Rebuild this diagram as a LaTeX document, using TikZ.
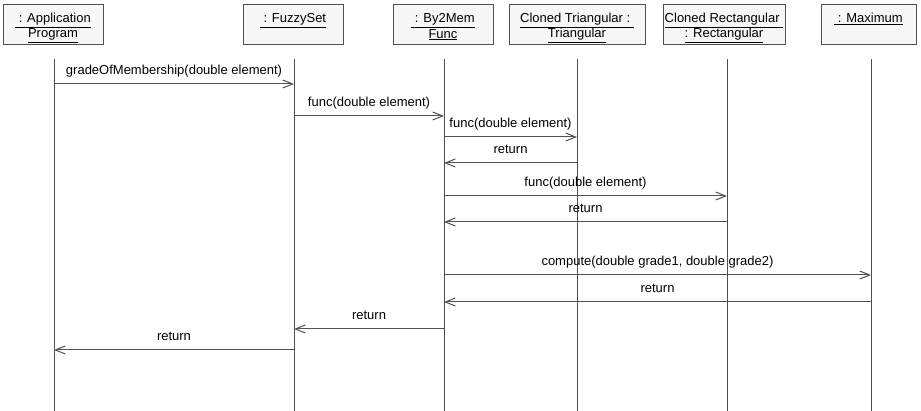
\documentclass[tikz,border=0pt]{standalone}
\usepackage{fontspec}
\setmainfont{Liberation Sans}
\usetikzlibrary{arrows.meta}
\definecolor{linecol}{HTML}{505050}
\definecolor{boxfill}{HTML}{F7F7F7}
\newcommand{\boxtxt}[2]{\raisebox{-3pt}[\height][\depth]{\begin{tabular}{@{}c@{}}#1\\#2\end{tabular}}}
\tikzset{
  objbox/.style={draw=linecol, fill=boxfill, line width=1pt, minimum height=40pt,
    inner sep=0pt, font=\fontsize{13}{15}\selectfont, anchor=north},
  lifeline/.style={draw=linecol, line width=1pt},
  msg/.style={draw=linecol, line width=1pt, -{Straight Barb[length=10pt,width=8pt,line width=1pt]}},
  lbl/.style={font=\fontsize{13}{15}\selectfont, anchor=base, inner sep=0pt, yshift=9.5pt}
}
\begin{document}
\begin{tikzpicture}[x=1pt,y=-1pt]
\useasboundingbox (0,0) rectangle (921,411);
% object boxes
\node[objbox, minimum width=100pt] (b1) at (53,4) {\boxtxt{\underline{\ : Application}}{\underline{Program}}};
\node[objbox, minimum width=100pt] (b2) at (293,4) {\boxtxt{\underline{\ : FuzzySet}}{\strut}};
\node[objbox, minimum width=100pt] (b3) at (443,4) {\boxtxt{\underline{\ : By2Mem}}{\underline{Func}}};
\node[objbox, minimum width=136pt] (b4) at (577,4) {\boxtxt{\underline{Cloned Triangular :\ }}{\underline{Triangular}}};
\node[objbox, minimum width=122pt] (b5) at (724,4) {\boxtxt{\underline{Cloned Rectangular\ }}{\underline{: Rectangular}}};
\node[objbox, minimum width=95pt] (b6) at (868.5,4) {\boxtxt{\underline{\ : Maximum}}{\strut}};
% lifelines
\coordinate (t1) at (54,59);  \coordinate (e1) at (54,411);
\coordinate (t2) at (294,59); \coordinate (e2) at (294,411);
\coordinate (t3) at (444,59); \coordinate (e3) at (444,411);
\coordinate (t4) at (577,59); \coordinate (e4) at (577,411);
\coordinate (t5) at (727,59); \coordinate (e5) at (727,411);
\coordinate (t6) at (871,59); \coordinate (e6) at (871,411);
\foreach \i in {1,...,6} \draw[lifeline] (t\i) -- (e\i);
% message levels
\coordinate (y1) at (0,84);
\coordinate (y2) at (0,116);
\coordinate (y3) at (0,137);
\coordinate (y4) at (0,163);
\coordinate (y5) at (0,196);
\coordinate (y6) at (0,222);
\coordinate (y7) at (0,275);
\coordinate (y8) at (0,302);
\coordinate (y9) at (0,329);
\coordinate (y10) at (0,350);
% messages
\draw[msg] (t1 |- y1) -- node[lbl] (l1) {gradeOfMembership(double element)} (t2 |- y1);
\draw[msg] (t2 |- y2) -- node[lbl] (l2) {func(double element)} (t3 |- y2);
\draw[msg] (t3 |- y3) -- node[lbl] (l3) {func(double element)} (t4 |- y3);
\draw[msg] (t4 |- y4) -- node[lbl] (l4) {return} (t3 |- y4);
\draw[msg] (t3 |- y5) -- node[lbl] (l5) {func(double element)} (t5 |- y5);
\draw[msg] (t5 |- y6) -- node[lbl] (l6) {return} (t3 |- y6);
\draw[msg] (t3 |- y7) -- node[lbl] (l7) {compute(double grade1, double grade2)} (t6 |- y7);
\draw[msg] (t6 |- y8) -- node[lbl] (l8) {return} (t3 |- y8);
\draw[msg] (t3 |- y9) -- node[lbl] (l9) {return} (t2 |- y9);
\draw[msg] (t2 |- y10) -- node[lbl] (l10) {return} (t1 |- y10);
\end{tikzpicture}
\end{document}
